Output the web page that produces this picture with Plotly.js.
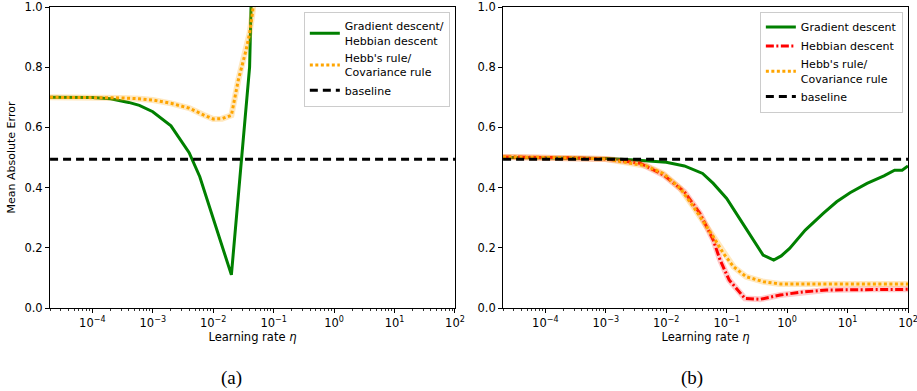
<!DOCTYPE html>
<html>
<head>
<meta charset="utf-8">
<script src="https://cdn.plot.ly/plotly-3.0.1.min.js"></script>
<style>html,body{margin:0;padding:0;background:#fff;}#chart{width:917px;height:391px;}</style>
</head>
<body>
<div id="chart"></div>
<script>
// ---- Panel (a) data ----
const lrA_gd = [2e-5, 5e-5, 1e-4, 2e-4, 4e-4, 6e-4, 1e-3, 2e-3, 4e-3, 6e-3, 2e-2, 4e-2, 5e-2];
const maeA_gd = [0.700, 0.700, 0.699, 0.695, 0.683, 0.673, 0.652, 0.605, 0.516, 0.436, 0.110, 0.800, 1.60];
const lrA_hebb = [2e-5, 1e-4, 3e-4, 6e-4, 1e-3, 2e-3, 4e-3, 7e-3, 1e-2, 1.4e-2, 2e-2, 2.6e-2, 3.5e-2, 4e-2, 4.5e-2, 5e-2];
const maeA_hebb = [0.700, 0.700, 0.698, 0.695, 0.691, 0.680, 0.664, 0.641, 0.628, 0.629, 0.640, 0.757, 0.857, 0.913, 0.985, 1.10];

// ---- Panel (b) data ----
const lrB_gd = [2e-5, 1e-4, 1e-3, 3e-3, 1e-2, 2e-2, 4e-2, 6e-2, 1e-1, 1.7e-1, 2.8e-1, 4e-1, 6e-1, 8e-1, 1.1, 2, 4, 6.6, 11, 21, 40, 60, 80, 100];
const maeB_gd = [0.500, 0.499, 0.497, 0.492, 0.484, 0.472, 0.447, 0.414, 0.364, 0.292, 0.226, 0.176, 0.159, 0.173, 0.198, 0.259, 0.315, 0.353, 0.383, 0.414, 0.439, 0.458, 0.458, 0.472];
const lrB_hd = [2e-5, 1e-4, 3e-4, 1e-3, 1.7e-3, 3.7e-3, 9e-3, 2e-2, 3.6e-2, 4.7e-2, 6e-2, 7.8e-2, 1.1e-1, 2e-1, 3.6e-1, 7.7e-1, 1.6, 4.5, 21, 100];
const maeB_hd = [0.502, 0.501, 0.499, 0.495, 0.490, 0.481, 0.442, 0.386, 0.315, 0.270, 0.226, 0.159, 0.093, 0.032, 0.029, 0.043, 0.052, 0.060, 0.062, 0.062];
const lrB_hebb = [2e-5, 1e-4, 3e-4, 1e-3, 2.2e-3, 4.7e-3, 8.9e-3, 1.7e-2, 2.8e-2, 4.1e-2, 6e-2, 8.8e-2, 1.3e-1, 2.1e-1, 4.1e-1, 7.7e-1, 100];
const maeB_hebb = [0.502, 0.501, 0.499, 0.495, 0.483, 0.472, 0.447, 0.398, 0.337, 0.287, 0.237, 0.182, 0.137, 0.104, 0.087, 0.080, 0.080];

// baseline
const baselineX = [2e-5, 100];
const baselineY = [0.494, 0.494];

// ticks
const xTickVals = [1e-4, 1e-3, 1e-2, 1e-1, 1e0, 1e1, 1e2];
const xTickText = ['10<sup>\u22124</sup>', '10<sup>\u22123</sup>', '10<sup>\u22122</sup>', '10<sup>\u22121</sup>', '10<sup>0</sup>', '10<sup>1</sup>', '10<sup>2</sup>'];

const GREEN = '#008000', ORANGE = '#FFA500', RED = '#FF0000';

const traces = [
  // panel a
  {x: lrA_gd, y: maeA_gd, xaxis: 'x', yaxis: 'y', mode: 'lines', name: 'Gradient descent/<br>Hebbian descent',
   line: {color: GREEN, width: 3}, legend: 'legend'},
  {x: lrA_hebb, y: maeA_hebb, xaxis: 'x', yaxis: 'y', mode: 'lines', showlegend: false, hoverinfo: 'skip',
   line: {color: 'rgba(255,165,0,0.25)', width: 6}},
  {x: lrA_hebb, y: maeA_hebb, xaxis: 'x', yaxis: 'y', mode: 'lines', name: "Hebb's rule/<br>Covariance rule",
   line: {color: ORANGE, width: 3, dash: '3px,2.5px'}, legend: 'legend'},
  {x: baselineX, y: baselineY, xaxis: 'x', yaxis: 'y', mode: 'lines', name: 'baseline',
   line: {color: 'black', width: 3, dash: '8px,5px'}, legend: 'legend'},
  // panel b
  {x: lrB_gd, y: maeB_gd, xaxis: 'x2', yaxis: 'y2', mode: 'lines', name: 'Gradient descent',
   line: {color: GREEN, width: 3}, legend: 'legend2'},
  {x: lrB_hd, y: maeB_hd, xaxis: 'x2', yaxis: 'y2', mode: 'lines', showlegend: false, hoverinfo: 'skip',
   line: {color: 'rgba(255,0,0,0.2)', width: 6}},
  {x: lrB_hd, y: maeB_hd, xaxis: 'x2', yaxis: 'y2', mode: 'lines', name: 'Hebbian descent',
   line: {color: RED, width: 3, dash: '8px,2.5px,2px,2.5px'}, legend: 'legend2'},
  {x: lrB_hebb, y: maeB_hebb, xaxis: 'x2', yaxis: 'y2', mode: 'lines', showlegend: false, hoverinfo: 'skip',
   line: {color: 'rgba(255,165,0,0.25)', width: 6}},
  {x: lrB_hebb, y: maeB_hebb, xaxis: 'x2', yaxis: 'y2', mode: 'lines', name: "Hebb's rule/<br>Covariance rule",
   line: {color: ORANGE, width: 3, dash: '3px,2.5px'}, legend: 'legend2'},
  {x: baselineX, y: baselineY, xaxis: 'x2', yaxis: 'y2', mode: 'lines', name: 'baseline',
   line: {color: 'black', width: 3, dash: '8px,5px'}, legend: 'legend2'}
];

const xBase = {
  type: 'log', range: [-4.7, 2], tickmode: 'array', tickvals: xTickVals, ticktext: xTickText,
  ticks: 'outside', ticklen: 4, tickwidth: 1, tickcolor: 'black', ticklabeloverflow: 'allow',
  showline: true, mirror: true, linecolor: 'black', linewidth: 1, showgrid: false, zeroline: false,
  minor: {ticks: 'outside', ticklen: 2, tickwidth: 0.8, tickcolor: 'black', dtick: 'D1', showgrid: false},
  tickfont: {size: 11.5, color: 'black'},
  title: {text: 'Learning rate <i>\u03B7</i>', font: {size: 11.5, color: 'black'}, standoff: 4}
};
const yBase = {
  range: [0, 1], dtick: 0.2, tickformat: '.1f',
  ticks: 'outside', ticklen: 4, tickwidth: 1, tickcolor: 'black',
  showline: true, mirror: true, linecolor: 'black', linewidth: 1, showgrid: false, zeroline: false,
  tickfont: {size: 11.5, color: 'black'}
};

const legendBase = {
  xanchor: 'right', yanchor: 'top', y: 0.985,
  bgcolor: 'rgba(255,255,255,0.8)', bordercolor: '#cccccc', borderwidth: 1,
  font: {size: 11, color: 'black', family: 'DejaVu Sans'}, tracegroupgap: 0, itemwidth: 30
};

const layout = {
  width: 917, height: 391,
  margin: {l: 50, r: 9, t: 7, b: 83},
  paper_bgcolor: 'white', plot_bgcolor: 'white',
  font: {family: 'DejaVu Sans', size: 11, color: 'black'},
  xaxis: Object.assign({}, xBase, {domain: [0, 0.472], anchor: 'y'}),
  yaxis: Object.assign({}, yBase, {domain: [0, 1], anchor: 'x',
    title: {text: 'Mean Absolute Error', font: {size: 11, color: 'black'}, standoff: 6}}),
  xaxis2: Object.assign({}, xBase, {domain: [0.528, 1], anchor: 'y2'}),
  yaxis2: Object.assign({}, yBase, {domain: [0, 1], anchor: 'x2'}),
  legend: Object.assign({}, legendBase, {x: 0.466}),
  legend2: Object.assign({}, legendBase, {x: 0.994}),
  annotations: [
    {text: '(a)', xref: 'paper', yref: 'paper', x: 0.212, y: -0.2326, xanchor: 'center', yanchor: 'middle',
     showarrow: false, font: {family: 'Liberation Serif', size: 19, color: 'black'}},
    {text: '(b)', xref: 'paper', yref: 'paper', x: 0.748, y: -0.2326, xanchor: 'center', yanchor: 'middle',
     showarrow: false, font: {family: 'Liberation Serif', size: 19, color: 'black'}}
  ],
  showlegend: true
};

Plotly.newPlot('chart', traces, layout, {displayModeBar: false, staticPlot: true});
</script>
</body>
</html>
